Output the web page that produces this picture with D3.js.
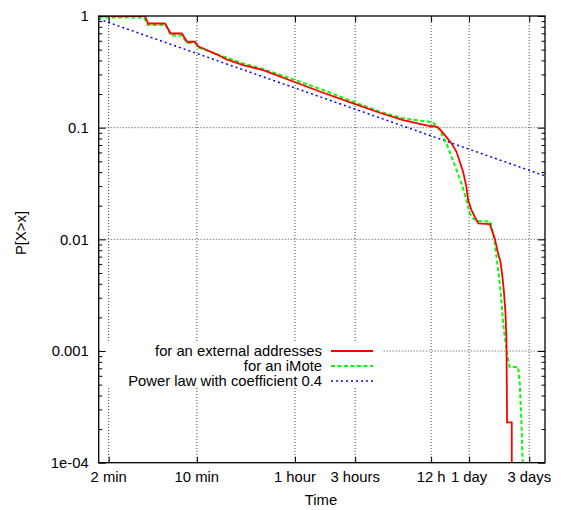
<!DOCTYPE html>
<html>
<head>
<meta charset="utf-8">
<script src="https://cdn.jsdelivr.net/npm/d3@7"></script>
<style>
    body { margin: 0; background: #ffffff; }
    text { font-family: "Liberation Sans", Arial, sans-serif; fill: #000; }
</style>
</head>
<body>
<div id="chart"></div>
<script>
// tick values / labels
const xTickValues = [120, 600, 3600, 10800, 43200, 86400, 259200];
const xTickLabels = ['2 min', '10 min', '1 hour', '3 hours', '12 h', '1 day', '3 days'];
const yTickValues = [1e-4, 1e-3, 1e-2, 0.1, 1];
const yTickLabels = ['1e-04', '0.001', '0.01', '0.1', '1'];

// series (time in seconds, P[X>x])
const externalTime = [100, 233, 246, 335, 372, 457, 501, 580, 618, 717,
    861, 1034, 1399, 2015, 3483, 6022, 10409, 16943, 25920, 42200,
    45400, 49100, 55500, 62700, 68700, 72900, 77500, 82400, 84900, 90300,
    95900, 102200, 126100, 138100, 146700, 153300, 159000, 163700, 167900, 171000,
    172900, 188400, 188400];
const externalProb = [1, 1, 0.857, 0.857, 0.697, 0.697, 0.588, 0.588, 0.533, 0.496,
    0.454, 0.409, 0.364, 0.328, 0.259, 0.2055, 0.165, 0.136, 0.117, 0.1033,
    0.103, 0.1006, 0.0858, 0.0723, 0.0608, 0.0495, 0.0403, 0.0295, 0.0225, 0.0183,
    0.0159, 0.0139, 0.0137, 0.0102, 0.0075, 0.0063, 0.0046, 0.0033, 0.0022, 0.00125,
    0.00023, 0.00023, 0.00008];

const imoteTime = [100, 228, 246, 341, 372, 457, 501, 580, 623, 861,
    1399, 2015, 3483, 6022, 10409, 16943, 25920, 44800, 50630, 57220,
    62700, 68700, 75240, 82400, 87540, 92960, 101850, 127700, 133900, 138100,
    142500, 149400, 156100, 160700, 165800, 176000, 181600, 211300, 218000, 224800,
    231400];
const imoteProb = [0.97, 0.97, 0.831, 0.831, 0.669, 0.669, 0.573, 0.573, 0.522, 0.4565,
    0.375, 0.335, 0.271, 0.2173, 0.1706, 0.1388, 0.1212, 0.1116, 0.0952, 0.0723,
    0.0548, 0.0417, 0.0317, 0.0225, 0.0171, 0.0154, 0.0146, 0.0144, 0.0113, 0.0092,
    0.0070, 0.0046, 0.00285, 0.00181, 0.00134, 0.00083, 0.00072, 0.00072, 0.00051, 0.00023,
    0.00008];

const powerLawTime = [100, 345600];
const powerLawProb = [0.94, 0.037];

const legendLabels = ['for an external addresses', 'for an iMote', 'Power law with coefficient 0.4'];

function main() {
    const svgWidth = 561;
    const svgHeight = 510;
    const margin = {top: 16, right: 16, bottom: 47.3, left: 98.7};
    const width = svgWidth - margin.left - margin.right;
    const height = svgHeight - margin.top - margin.bottom;
    const fontSize = '14.8px';

    const svg = d3.select('#chart').append('svg')
        .attr('width', svgWidth)
        .attr('height', svgHeight);

    const g = svg.append('g')
        .attr('transform', `translate(${margin.left},${margin.top})`);

    const x = d3.scaleLog().domain([100, 345600]).range([0, width]);
    const y = d3.scaleLog().domain([1e-4, 1]).range([height, 0]);

    // grid
    g.selectAll('.xgrid')
        .data(xTickValues)
        .enter().append('line')
        .attr('x1', d => x(d)).attr('x2', d => x(d))
        .attr('y1', 0).attr('y2', height)
        .attr('stroke', '#444')
        .attr('stroke-width', 1)
        .attr('stroke-dasharray', '1,2');
    g.selectAll('.ygrid')
        .data(yTickValues.slice(1, -1))
        .enter().append('line')
        .attr('y1', d => y(d)).attr('y2', d => y(d))
        .attr('x1', 0).attr('x2', width)
        .attr('stroke', '#444')
        .attr('stroke-width', 1)
        .attr('stroke-dasharray', '1,2');

    // opaque key box
    g.append('rect')
        .attr('x', 1).attr('y', 342 - margin.top)
        .attr('width', 381 - margin.left).attr('height', 46)
        .attr('fill', '#fff');

    g.append('clipPath').attr('id', 'plot-clip')
        .append('rect').attr('width', width).attr('height', height);

    const series = [
        {time: powerLawTime, prob: powerLawProb, color: '#0000ff', width: 1.5, dash: '2,3'},
        {time: imoteTime, prob: imoteProb, color: '#00ff00', width: 2, dash: '4,2.5'},
        {time: externalTime, prob: externalProb, color: '#ff0000', width: 1.8, dash: null}
    ];

    const line = d3.line()
        .x(d => x(d[0]))
        .y(d => y(d[1]));

    series.forEach(s => {
        const pts = s.time.map((t, i) => [t, s.prob[i]]);
        g.append('path')
            .datum(pts)
            .attr('clip-path', 'url(#plot-clip)')
            .attr('fill', 'none')
            .attr('stroke', s.color)
            .attr('stroke-width', s.width)
            .attr('stroke-dasharray', s.dash)
            .attr('d', line);
    });

    // axes (ticks inward, mirrored)
    const minorTicks = [];
    yTickValues.slice(0, -1).forEach(v => {
        for (let k = 2; k <= 9; k++) minorTicks.push(v * k);
    });

    g.append('g')
        .call(d3.axisBottom(x).tickValues(xTickValues).tickSize(-6).tickFormat(''))
        .attr('transform', `translate(0,${height})`);
    g.append('g')
        .call(d3.axisTop(x).tickValues(xTickValues).tickSize(-6).tickFormat(''));
    g.append('g')
        .call(d3.axisLeft(y).tickValues(yTickValues).tickSize(-7).tickFormat(''));
    g.append('g')
        .call(d3.axisLeft(y).tickValues(minorTicks).tickSize(-3.5).tickFormat(''));
    g.append('g')
        .attr('transform', `translate(${width},0)`)
        .call(d3.axisRight(y).tickValues(yTickValues).tickSize(-7).tickFormat(''));
    g.append('g')
        .attr('transform', `translate(${width},0)`)
        .call(d3.axisRight(y).tickValues(minorTicks).tickSize(-3.5).tickFormat(''));
    g.selectAll('.domain').remove();
    g.selectAll('.tick line').attr('stroke', '#000').attr('stroke-width', 1);

    g.append('rect')
        .attr('width', width).attr('height', height)
        .attr('fill', 'none')
        .attr('stroke', '#000')
        .attr('stroke-width', 1.3);

    // tick labels
    g.selectAll('.xlabel')
        .data(xTickValues)
        .enter().append('text')
        .attr('x', d => x(d))
        .attr('y', height + 14)
        .attr('dy', '0.35em')
        .attr('text-anchor', 'middle')
        .style('font-size', fontSize)
        .text((d, i) => xTickLabels[i]);
    g.selectAll('.ylabel')
        .data(yTickValues)
        .enter().append('text')
        .attr('x', -10)
        .attr('y', d => y(d))
        .attr('dy', '0.35em')
        .attr('text-anchor', 'end')
        .style('font-size', fontSize)
        .text((d, i) => yTickLabels[i]);

    svg.append('text')
        .attr('transform', 'rotate(-90)')
        .attr('x', -233)
        .attr('y', 21)
        .attr('dy', '0.35em')
        .attr('text-anchor', 'middle')
        .style('font-size', fontSize)
        .text('P[X>x]');
    svg.append('text')
        .attr('x', 321)
        .attr('y', 500)
        .attr('dy', '0.35em')
        .attr('text-anchor', 'middle')
        .style('font-size', fontSize)
        .text('Time');

    // legend
    const legendY = [351, 366, 381];
    const legend = svg.append('g');
    series.slice().reverse().forEach((s, i) => {
        legend.append('text')
            .attr('x', 322)
            .attr('y', legendY[i])
            .attr('dy', '0.35em')
            .attr('text-anchor', 'end')
            .style('font-size', fontSize)
            .text(legendLabels[i]);
        legend.append('line')
            .attr('x1', 331).attr('x2', 373)
            .attr('y1', legendY[i]).attr('y2', legendY[i])
            .attr('stroke', s.color)
            .attr('stroke-width', s.width)
            .attr('stroke-dasharray', s.dash);
    });
}

main();
</script>
</body>
</html>
